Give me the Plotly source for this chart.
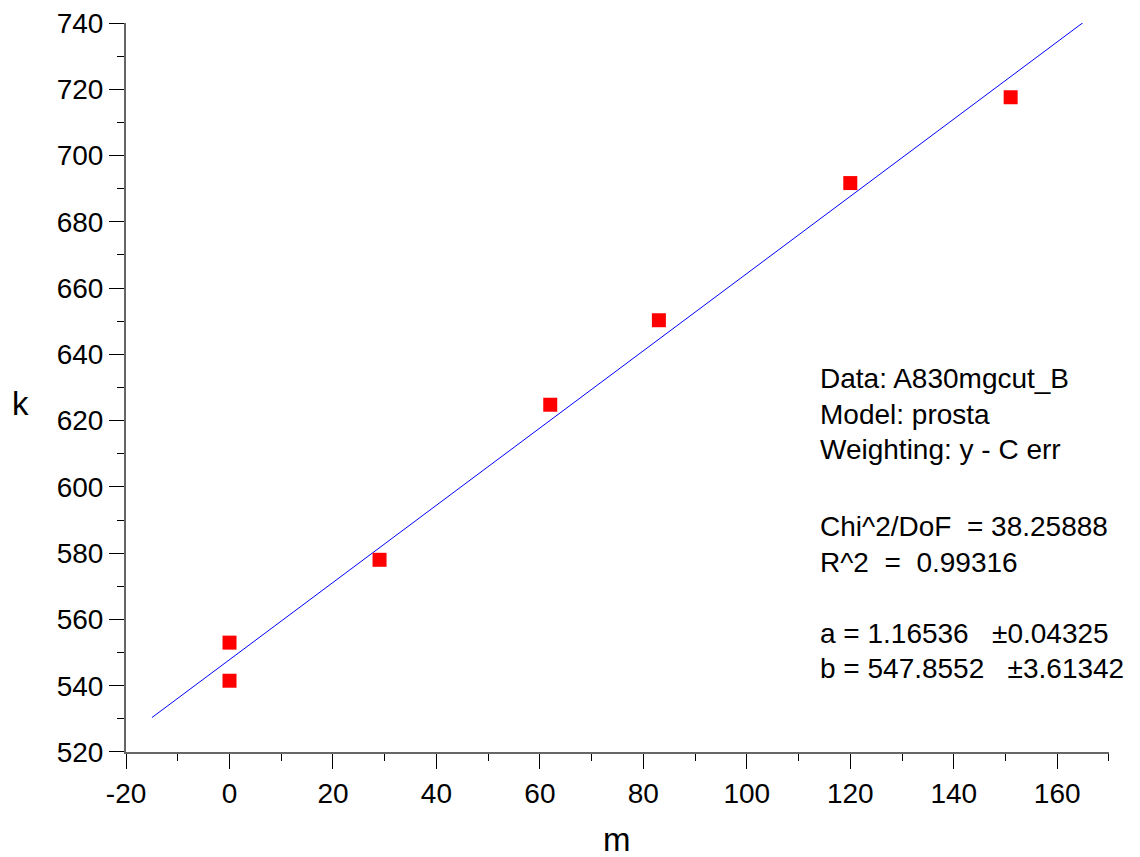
import plotly.graph_objects as go

m_vals = [0, 0, 29, 62, 83, 120, 151]
k_vals = [553.0, 541.5, 578.0, 624.8, 650.3, 691.7, 717.6]
fit_a = 1.16536
fit_b = 547.8552
fit_x = [-15, 165]
fit_y = [fit_a * x + fit_b for x in fit_x]

x_tick_vals = [-20, 0, 20, 40, 60, 80, 100, 120, 140, 160]
x_tick_text = ["-20", "0", "20", "40", "60", "80", "100", "120", "140", "160"]
y_tick_vals = [520, 540, 560, 580, 600, 620, 640, 660, 680, 700, 720, 740]
y_tick_text = [str(v) for v in y_tick_vals]

info_lines = [
    "Data: A830mgcut_B",
    "Model: prosta",
    "Weighting: y - C err",
    "Chi^2/DoF  = 38.25888",
    "R^2  =  0.99316",
    "a = 1.16536   ±0.04325",
    "b = 547.8552   ±3.61342",
]
info_y = [0.5117, 0.4636, 0.4156, 0.3100, 0.2606, 0.1620, 0.1150]

FONT = "Liberation Sans, Arial, sans-serif"

fig = go.Figure()
fig.add_trace(go.Scatter(x=fit_x, y=fit_y, mode="lines",
                         line=dict(color="#0000ff", width=1), showlegend=False))
fig.add_trace(go.Scatter(x=m_vals, y=k_vals, mode="markers",
                         marker=dict(symbol="square", size=14, color="#ff0000",
                                     line=dict(width=0)),
                         showlegend=False))

axis_common = dict(showline=True, linecolor="#666666", linewidth=2,
                   ticks="outside", ticklen=15, tickwidth=1.2, tickcolor="#000000",
                   showgrid=False, zeroline=False, ticklabeloverflow="allow",
                   automargin=False,
                   tickfont=dict(family=FONT, size=28, color="#000000"))

fig.update_xaxes(range=[-20.01, 170.01], tickmode="array",
                 tickvals=x_tick_vals, ticktext=x_tick_text,
                 minor=dict(ticks="outside", ticklen=7, dtick=10, tick0=-20,
                            tickcolor="#000000", showgrid=False),
                 **axis_common)
fig.update_yaxes(range=[519.99, 740.01], tickmode="array",
                 tickvals=y_tick_vals, ticktext=y_tick_text,
                 minor=dict(ticks="outside", ticklen=7, dtick=10, tick0=520,
                            tickcolor="#000000", showgrid=False),
                 **axis_common)

annotations = [
    dict(text="k", xref="paper", yref="paper", x=-0.1078, y=0.478,
         xanchor="center", yanchor="middle", showarrow=False,
         font=dict(family=FONT, size=33, color="#000000")),
    dict(text="m", xref="paper", yref="paper", x=0.4995, y=-0.120,
         xanchor="center", yanchor="middle", showarrow=False,
         font=dict(family=FONT, size=33, color="#000000")),
]
for line, yy in zip(info_lines, info_y):
    annotations.append(dict(text=line, xref="paper", yref="paper", x=0.704, y=yy,
                            xanchor="left", yanchor="middle", align="left",
                            showarrow=False,
                            font=dict(family=FONT, size=28, color="#000000")))

fig.update_layout(width=1132, height=849,
                  margin=dict(l=118, r=31, t=15, b=105, autoexpand=False),
                  plot_bgcolor="#ffffff", paper_bgcolor="#ffffff",
                  annotations=annotations)

fig.write_html("out.html")
